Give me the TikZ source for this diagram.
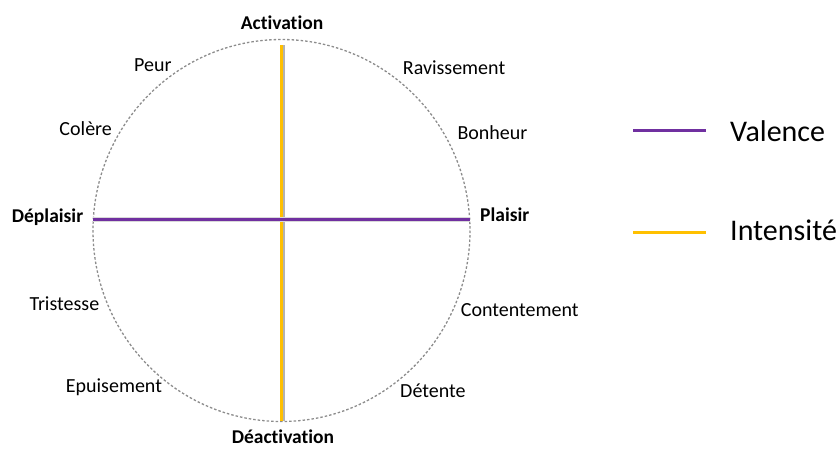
\documentclass[tikz,border=0pt]{standalone}
\usepackage{fontspec}
\setmainfont{Carlito}[Ligatures=NoCommon]
\definecolor{valence}{HTML}{7030A0}
\definecolor{intensite}{HTML}{FFC000}
\tikzset{
    emotion/.style={
        inner sep=0pt,anchor=base west,
        font=\fontsize{20}{21}\selectfont
    },
    pole/.style={emotion,font=\fontsize{19.5}{20}\selectfont\bfseries},
    legend label/.style={inner sep=0pt,anchor=base west,font=\fontsize{30}{32}\selectfont},
    valence axis/.style={draw=valence,line width=3pt},
    intensity axis/.style={draw=intensite,line width=2.8pt}
}

\begin{document}
\begin{tikzpicture}[x=1pt,y=-1pt]
        \useasboundingbox (0,0) rectangle (839,448);
        \draw[gray!90,line width=1.3pt,dash pattern=on 2.5pt off 2pt] (281.5,230.5) ellipse [x radius=188.5,y radius=191];
        \coordinate (west) at (93,219.7);
        \coordinate (east) at (470,219.7);
        \coordinate (north) at (281.3,45);
        \coordinate (south) at (281.3,421);
        \draw[gray!60,line width=1.6pt] ([xshift=2.4pt]north) -- ([xshift=2.4pt]south);
        \draw[intensity axis] (north) -- (south);
        \draw[gray!30,line width=5pt] (west) -- (east);
        \draw[valence axis] (west) -- (east);
        \foreach \name/\txt/\x/\y in {peur/Peur/134/71,colere/Colère/59.3/135,
            ravissement/Ravissement/402.7/74,bonheur/Bonheur/457.3/139,
            tristesse/Tristesse/29.3/310,epuisement/Epuisement/65.7/392.3,
            contentement/Contentement/460.7/316,detente/Détente/400/397.3}
            \node[emotion] (\name) at (\x,\y) {\txt};
        \node[pole,anchor=base] (activation) at (282,29) {Activation};
        \node[pole,anchor=base] (deactivation) at (283,443.5) {Déactivation};
        \node[pole] (deplaisir) at (11.7,222) {Déplaisir};
        \node[pole] (plaisir) at (480,221.7) {Plaisir};
        % legende
        \node[legend label] (valence) at (730,141.7) {Valence};
        \node[legend label] (intensite) at (730,240) {Intensité};
        \coordinate (valence start) at (633,130.3);
        \coordinate (intensite start) at (633,232.3);
        \draw[valence,line width=2.6pt] (valence start) -- ++(73,0);
        \draw[intensite,line width=2.6pt] (intensite start) -- ++(73,0);
    \end{tikzpicture}
\end{document}
